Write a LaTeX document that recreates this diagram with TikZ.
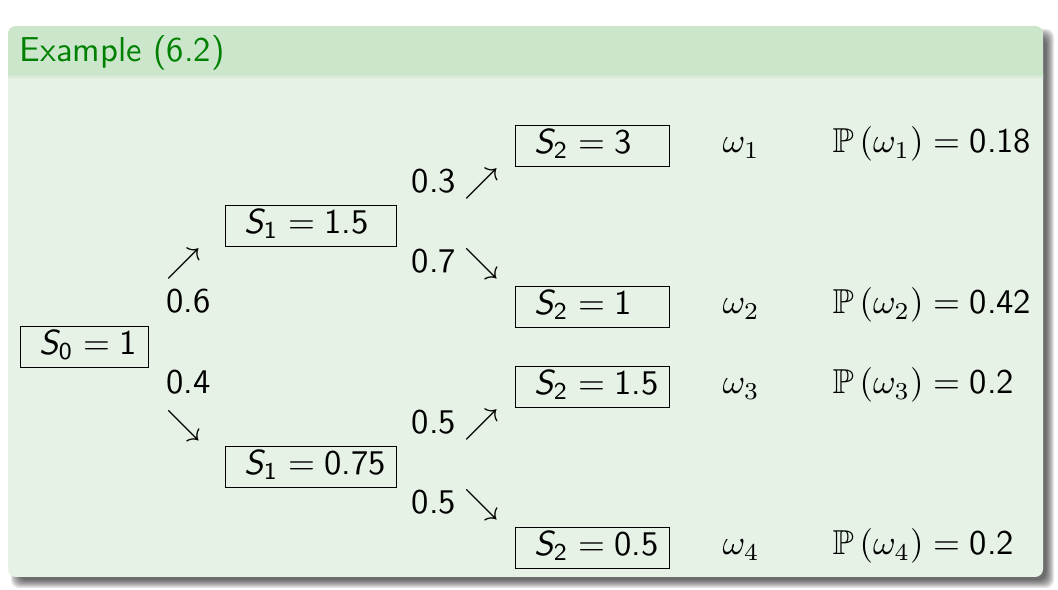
\documentclass[tikz,border=0pt]{standalone}
\usepackage{amsmath,amssymb}
\usetikzlibrary{calc}

\definecolor{extitle}{RGB}{204,230,204}
\definecolor{exbody}{RGB}{230,242,230}
\definecolor{extext}{RGB}{0,128,0}

\newcommand{\Sv}[1]{\text{\itshape S}_{\text{#1}}}
\newcommand{\nm}[1]{\text{#1}}
\newcommand{\Prob}[1]{\mathbb{P}\left(\omega_{#1}\right)}

\tikzset{
    sbox/.style={draw, anchor=north west, inner xsep=5.49pt, inner ysep=0pt,
        text height=8.09pt, text depth=3.76pt},
    lbl/.style={anchor=base west, inner sep=0pt}
}

\begin{document}
\begin{tikzpicture}[x=0.289pt, y=-0.289pt, font=\sffamily]
        \useasboundingbox (0,0) rectangle (1058,590);
        % shadow
        \foreach \e in {-4,...,4} {
            \fill[black, opacity=.09, rounded corners=2.3pt]
                (15-\e,33-\e) rectangle (1050+\e,584+\e);
        }
        % block
        \fill[exbody, rounded corners=2.3pt] (8,26) rectangle (1043,577);
        \begin{scope}
            \clip[rounded corners=2.3pt] (8,26) rectangle (1043,577);
            \fill[extitle] (8,26) rectangle (1043,74);
            \shade[top color=extitle, bottom color=exbody] (8,74) rectangle (1043,79);
        \end{scope}
        \node[lbl, text=extext] (title) at (19,62) {Example (6.2)};

        % tree
        \node[sbox] (s0) at (20,326) {\makebox[26pt][l]{$\Sv{0} = \nm{1}$}};
        \node[sbox] (s1a) at (225,205) {\makebox[38.4pt][l]{$\Sv{1} = \nm{1.5}$}};
        \node[sbox] (s1b) at (225,446) {\makebox[38.4pt][l]{$\Sv{1} = \nm{0.75}$}};
        \foreach \n/\y/\v in {a/125/3, b/286/1, c/366/1.5, d/527/0.5} {
            \node[sbox] (s2\n) at (515,\y) {\makebox[33.5pt][l]{$\Sv{2} = \nm{\v}$}};
        }

        \node[lbl] (u0) at (166,273) {$\nearrow$};
        \node[lbl] (p0) at (166,313) {0.6};
        \node[lbl] (q0) at (166,394) {0.4};
        \node[lbl] (d0) at (166,435) {$\searrow$};

        \node[lbl] (p1) at (411,193) {0.3};
        \node[lbl] (u1) at (464,193) {$\nearrow$};
        \node[lbl] (q1) at (411,273) {0.7};
        \node[lbl] (d1) at (464,273) {$\searrow$};

        \node[lbl] (p2) at (411,434) {0.5};
        \node[lbl] (u2) at (464,434) {$\nearrow$};
        \node[lbl] (q2) at (411,514) {0.5};
        \node[lbl] (d2) at (464,514) {$\searrow$};

        % outcomes
        \foreach \i/\y/\p in {1/153/0.18, 2/314/0.42, 3/394/0.2, 4/555/0.2} {
            \node[lbl] (w\i) at (722,\y) {$\omega_{\i}$};
            \node[lbl] (P\i) at (832,\y) {$\Prob{\i} = \nm{\p}$};
        }
    \end{tikzpicture}
\end{document}
